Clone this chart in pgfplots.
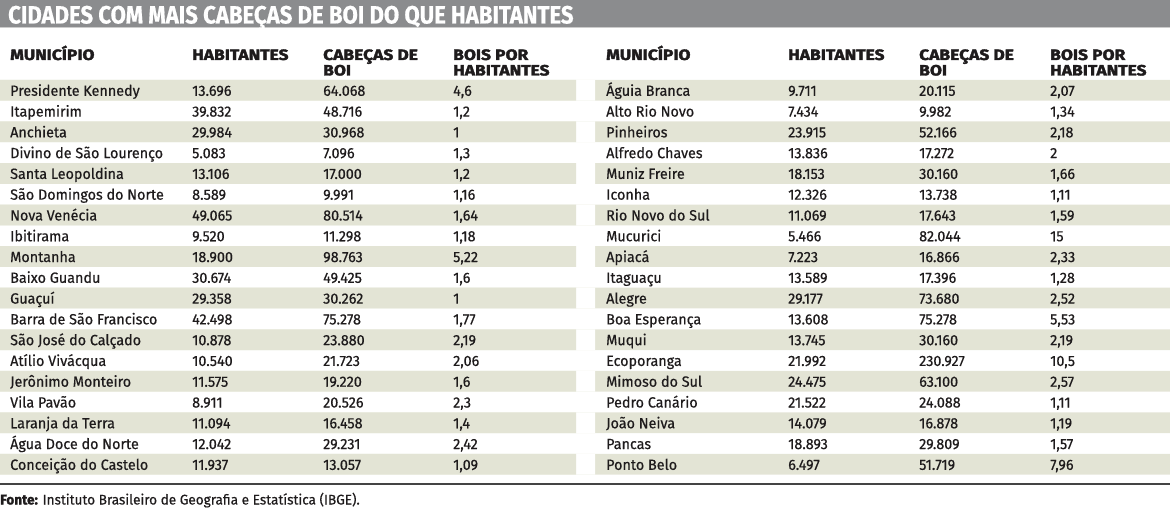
\documentclass[border=0pt]{standalone}
\usepackage{pgfplots}
\pgfplotsset{compat=1.18}
\usepackage{pgfplotstable}
\usepackage{fontspec}
\setmainfont{Fira Sans}[Numbers={Proportional,Lining}, FakeStretch=0.97,
  UprightFeatures={FakeBold=0.5}, BoldFeatures={FakeBold=1.5}]
\newfontfamily\headfont{Fira Sans}[FakeStretch=1.16, BoldFeatures={FakeBold=2.2}]
\newfontfamily\titlefont{Fira Sans}[FakeStretch=0.885, BoldFeatures={FakeBold=0.6}]
\definecolor{titlebar}{HTML}{8B8C8E}
\definecolor{band}{HTML}{E3E4D5}
\definecolor{txt}{HTML}{1E1B1C}
\definecolor{rule}{HTML}{444444}

\pgfplotstableread[col sep=semicolon]{
mun;hab;cab;bois
Presidente Kennedy;13.696;64.068;4,6
Itapemirim;39.832;48.716;1,2
Anchieta;29.984;30.968;1
Divino de São Lourenço;5.083;7.096;1,3
Santa Leopoldina;13.106;17.000;1,2
São Domingos do Norte;8.589;9.991;1,16
Nova Venécia;49.065;80.514;1,64
Ibitirama;9.520;11.298;1,18
Montanha;18.900;98.763;5,22
Baixo Guandu;30.674;49.425;1,6
Guaçuí;29.358;30.262;1
Barra de São Francisco;42.498;75.278;1,77
São José do Calçado;10.878;23.880;2,19
Atílio Vivácqua;10.540;21.723;2,06
Jerônimo Monteiro;11.575;19.220;1,6
Vila Pavão;8.911;20.526;2,3
Laranja da Terra;11.094;16.458;1,4
Água Doce do Norte;12.042;29.231;2,42
Conceição do Castelo;11.937;13.057;1,09
}\leftdata

\pgfplotstableread[col sep=semicolon]{
mun;hab;cab;bois
Águia Branca;9.711;20.115;2,07
Alto Rio Novo;7.434;9.982;1,34
Pinheiros;23.915;52.166;2,18
Alfredo Chaves;13.836;17.272;2
Muniz Freire;18.153;30.160;1,66
Iconha;12.326;13.738;1,11
Rio Novo do Sul;11.069;17.643;1,59
Mucurici;5.466;82.044;15
Apiacá;7.223;16.866;2,33
Itaguaçu;13.589;17.396;1,28
Alegre;29.177;73.680;2,52
Boa Esperança;13.608;75.278;5,53
Muqui;13.745;30.160;2,19
Ecoporanga;21.992;230.927;10,5
Mimoso do Sul;24.475;63.100;2,57
Pedro Canário;21.522;24.088;1,11
João Neiva;14.079;16.878;1,19
Pancas;18.893;29.809;1,57
Ponto Belo;6.497;51.719;7,96
}\rightdata

% shaded rows: row index, right edge of full band, white gap edge, left band edge
\pgfplotstableread{
row full gap left
0 1170 595 576
2 1170 595 576
4 1170 595 576
6 1170 595 576
8 1170 595 576
10 1170 595 576
12 1170 595 576
14 1170 595 576
16 1170 595 576
18 1170 595 576
}\bandrows

\tikzset{hd/.style={anchor=base west, inner sep=0pt, text=txt,
  font=\headfont\bfseries\fontsize{15}{15}\selectfont}}

\begin{document}
\begin{tikzpicture}
\begin{axis}[
  width=1170pt, height=513pt, scale only axis,
  xmin=0, xmax=1170, ymin=0, ymax=513, y dir=reverse,
  enlargelimits=false, hide axis, clip=false,
  every node near coord/.append style={anchor=base west, inner sep=0pt,
     font=\fontsize{14.8}{16}\selectfont, text=txt},
]
% title bar
\fill[titlebar] (axis cs:0,0) rectangle (axis cs:1170,27.5);
\draw[black!20, line width=1pt] (axis cs:0,28) -- (axis cs:1170,28);
\node[anchor=base west, inner sep=0pt, text=white,
      font=\titlefont\bfseries\fontsize{25}{25}\selectfont]
  at (axis cs:8,23.5) {CIDADES COM MAIS CABEÇAS DE BOI DO QUE HABITANTES};

% row bands
\addplot[xbar, bar shift=0pt, bar width=20.78, fill=band, draw=none]
  table[x=full, y expr=90.3+20.78*\thisrow{row}] {\bandrows};
\addplot[xbar, bar shift=0pt, bar width=20.78, fill=white, draw=none]
  table[x=gap, y expr=90.3+20.78*\thisrow{row}] {\bandrows};
\addplot[xbar, bar shift=0pt, bar width=20.78, fill=band, draw=none]
  table[x=left, y expr=90.3+20.78*\thisrow{row}] {\bandrows};

% headers
\node[hd] at (axis cs:10,60) {MUNICÍPIO};
\node[hd] at (axis cs:192,60) {HABITANTES};
\node[hd] at (axis cs:323,60) {CABEÇAS DE};
\node[hd] at (axis cs:323,75.5) {BOI};
\node[hd] at (axis cs:453,60) {BOIS POR};
\node[hd] at (axis cs:453,75.5) {HABITANTES};
\node[hd] at (axis cs:606,60) {MUNICÍPIO};
\node[hd] at (axis cs:788,60) {HABITANTES};
\node[hd] at (axis cs:919,60) {CABEÇAS DE};
\node[hd] at (axis cs:919,75.5) {BOI};
\node[hd] at (axis cs:1050,60) {BOIS POR};
\node[hd] at (axis cs:1050,75.5) {HABITANTES};

% left table text
\addplot[draw=none, mark=none, nodes near coords, point meta=explicit symbolic]
  table[x expr=10, y expr=95.8+20.78*\coordindex, meta=mun] {\leftdata};
\addplot[draw=none, mark=none, nodes near coords, point meta=explicit symbolic]
  table[x expr=192, y expr=95.8+20.78*\coordindex, meta=hab] {\leftdata};
\addplot[draw=none, mark=none, nodes near coords, point meta=explicit symbolic]
  table[x expr=323, y expr=95.8+20.78*\coordindex, meta=cab] {\leftdata};
\addplot[draw=none, mark=none, nodes near coords, point meta=explicit symbolic]
  table[x expr=453, y expr=95.8+20.78*\coordindex, meta=bois] {\leftdata};

% right table text
\addplot[draw=none, mark=none, nodes near coords, point meta=explicit symbolic]
  table[x expr=606, y expr=95.8+20.78*\coordindex, meta=mun] {\rightdata};
\addplot[draw=none, mark=none, nodes near coords, point meta=explicit symbolic]
  table[x expr=788, y expr=95.8+20.78*\coordindex, meta=hab] {\rightdata};
\addplot[draw=none, mark=none, nodes near coords, point meta=explicit symbolic]
  table[x expr=919, y expr=95.8+20.78*\coordindex, meta=cab] {\rightdata};
\addplot[draw=none, mark=none, nodes near coords, point meta=explicit symbolic]
  table[x expr=1050, y expr=95.8+20.78*\coordindex, meta=bois] {\rightdata};

% bottom rule and source
\draw[rule, line width=1.5pt] (axis cs:0,484) -- (axis cs:1170,484);
\node[anchor=base west, inner sep=0pt, text=txt, font=\fontsize{14}{15}\selectfont]
  at (axis cs:0,504.5) {\textbf{Fonte:} Instituto Brasileiro de Geografia e Estatística (IBGE).};
\end{axis}
\pgfresetboundingbox
\path (0,0) rectangle (1170pt,513pt);
\end{tikzpicture}
\end{document}
